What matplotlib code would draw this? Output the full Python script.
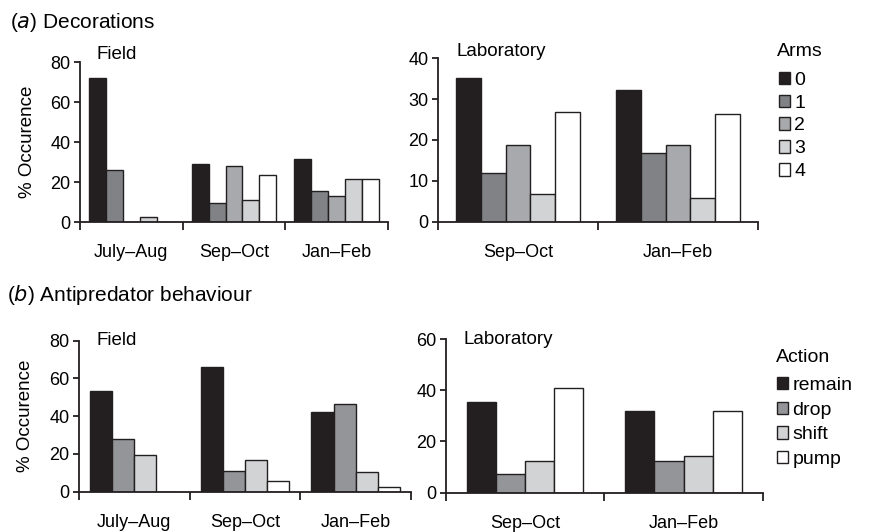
import matplotlib.pyplot as plt
import numpy as np

plt.rcParams['font.family'] = ['Liberation Sans', 'DejaVu Sans']
plt.rcParams['font.size'] = 13

# (a) decorations: % occurrence by number of arms
arms = ['0', '1', '2', '3', '4']
arms_colors = ['#231f20', '#808285', '#a7a9ac', '#d1d3d4', '#ffffff']
field_periods = ['July–Aug', 'Sep–Oct', 'Jan–Feb']
lab_periods = ['Sep–Oct', 'Jan–Feb']
deco_field = [
    [72, 26, 0, 2.5, 0],
    [29, 9.3, 28, 11, 23.3],
    [31.5, 15.7, 13, 21.5, 21.5],
]
deco_lab = [
    [35.1, 11.8, 18.8, 6.9, 26.9],
    [32.2, 16.9, 18.8, 5.7, 26.3],
]

# (b) antipredator behaviour: % occurrence by action
actions = ['remain', 'drop', 'shift', 'pump']
action_colors = ['#231f20', '#939598', '#d1d3d4', '#ffffff']
anti_field = [
    [53.3, 27.9, 19.4, 0],
    [66.2, 11, 16.8, 5.8],
    [42.4, 46.3, 10.3, 2.6],
]
anti_lab = [
    [35.3, 7.3, 12.4, 40.8],
    [32, 12.4, 14.5, 31.9],
]

edge = '#231f20'


def grouped(ax, data, periods, colors, labels, bw, ymax, ystep, title, tx, ty):
    data = np.array(data)
    n = data.shape[1]
    x = np.arange(len(periods)) + 0.5
    for j in range(n):
        off = (j - (n - 1) / 2) * bw
        ax.bar(x + off, data[:, j], bw, color=colors[j], edgecolor=edge,
               linewidth=1.0, label=labels[j], zorder=2)
    ax.set_xlim(0, len(periods))
    ax.set_ylim(0, ymax)
    ax.set_yticks(np.arange(0, ymax + 1, ystep))
    ax.set_xticks(np.arange(len(periods) + 1))
    ax.set_xticklabels([])
    ax.set_xticks(x, minor=True)
    ax.set_xticklabels(periods, minor=True)
    ax.tick_params(axis='x', which='major', direction='out', length=6, width=1.3, color=edge)
    ax.tick_params(axis='x', which='minor', length=0, pad=16, labelsize=13)
    ax.tick_params(axis='y', direction='out', length=4, width=1.3, color=edge,
                   labelsize=13, pad=3)
    for s in ['top', 'right']:
        ax.spines[s].set_visible(False)
    for s in ['left', 'bottom']:
        ax.spines[s].set_linewidth(1.3)
        ax.spines[s].set_color(edge)
    ax.text(tx, ty, title, transform=ax.transAxes, fontsize=13.5, va='center')


fig = plt.figure(figsize=(8.7, 5.32), dpi=100)

ax1 = fig.add_axes([80 / 870, 1 - 222 / 532, 308 / 870, 160 / 532])
grouped(ax1, deco_field, field_periods, arms_colors, arms, 0.165, 80, 20, 'Field', 0.052, 1.05)
ax1.set_ylabel('% Occurence', fontsize=13.5)
ax1.yaxis.set_label_coords(-0.142, 0.5)

ax2 = fig.add_axes([438 / 870, 1 - 221.7 / 532, 320 / 870, 163.4 / 532])
grouped(ax2, deco_lab, lab_periods, arms_colors, arms, 0.156, 40, 10, 'Laboratory', 0.059, 1.04)

ax3 = fig.add_axes([79 / 870, 1 - 491.7 / 532, 332 / 870, 151 / 532])
grouped(ax3, anti_field, field_periods, action_colors, actions, 0.2, 80, 20, 'Field', 0.054, 1.0)
ax3.set_ylabel('% Occurence', fontsize=13.5)
ax3.yaxis.set_label_coords(-0.136, 0.5)

ax4 = fig.add_axes([446 / 870, 1 - 492.7 / 532, 316.7 / 870, 153.7 / 532])
grouped(ax4, anti_lab, lab_periods, action_colors, actions, 0.184, 60, 20, 'Laboratory', 0.054, 1.0)

fig.text(10 / 870, 1 - 23 / 532, r'($\it{a}$) Decorations', fontsize=15, va='center')
fig.text(7 / 870, 1 - 295 / 532, r'($\it{b}$) Antipredator behaviour', fontsize=15, va='center')

# legends, with their headings placed as separate text
fig.text(777 / 870, 1 - 52 / 532, 'Arms', fontsize=14, va='center')
fig.text(776 / 870, 1 - 357 / 532, 'Action', fontsize=14, va='center')

leg_kw = dict(frameon=False, loc='upper left', borderpad=0, handlelength=0.6,
              handleheight=0.6, handletextpad=0.2, fontsize=14)
h, l = ax2.get_legend_handles_labels()
fig.legend(h, l, bbox_to_anchor=(769 / 870, 1 - 62 / 532),
           labelspacing=0.3, **leg_kw)
h, l = ax4.get_legend_handles_labels()
fig.legend(h, l, bbox_to_anchor=(767 / 870, 1 - 367 / 532),
           labelspacing=0.4, **leg_kw)

fig.savefig('out.png', dpi=100)
